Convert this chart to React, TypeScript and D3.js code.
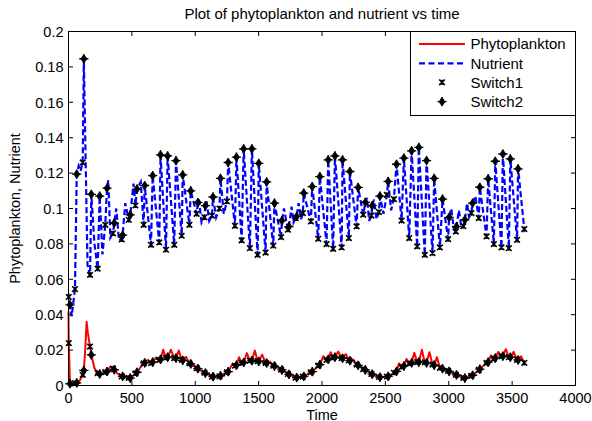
import React from 'react';
import * as d3 from 'd3';

const W = 592;
const H = 421;

const titleText = 'Plot of phytoplankton and nutrient vs time';
const xLabelText = 'Time';
const yLabelText = 'Phytoplankton, Nutrient';
const xTicks = [0, 500, 1000, 1500, 2000, 2500, 3000, 3500, 4000];
const yTicks = [0, 0.02, 0.04, 0.06, 0.08, 0.1, 0.12, 0.14, 0.16, 0.18, 0.2];
const yTickLabels = ['0', '0.02', '0.04', '0.06', '0.08', '0.1', '0.12', '0.14', '0.16', '0.18', '0.2'];
const legendLabels = ['Phytoplankton', 'Nutrient', 'Switch1', 'Switch2'];

// Nutrient trajectory [time, value]
const nutrient: [number, number][] = [
  [0, 0.052], [2, 0.050], [12, 0.0456], [25, 0.039], [51, 0.0545], [65, 0.1194], [80, 0.124], [95, 0.121],
  [112, 0.126], [121, 0.1846], [150, 0.068], [170, 0.0625], [180, 0.108], [205, 0.080], [230, 0.066],
  [246, 0.107], [268, 0.074], [290, 0.0908], [304, 0.1115], [314, 0.116], [330, 0.0835], [351, 0.086],
  [361, 0.0918], [377, 0.100], [398, 0.082], [420, 0.0825], [427, 0.085], [448, 0.103], [475, 0.0936],
  [487, 0.0964], [513, 0.114], [528, 0.1017], [540, 0.111], [570, 0.115], [593, 0.0908], [601, 0.113],
  [651, 0.0795], [664, 0.1186], [716, 0.0808], [726, 0.1303], [769, 0.0767], [782, 0.1297], [834, 0.0795],
  [848, 0.127], [893, 0.0846], [901, 0.119], [954, 0.0908], [964, 0.110], [1011, 0.097], [1021, 0.1034],
  [1030, 0.105], [1050, 0.092], [1072, 0.095], [1080, 0.1016], [1090, 0.104], [1110, 0.093], [1132, 0.096],
  [1140, 0.1065], [1165, 0.095], [1191, 0.100], [1199, 0.117], [1225, 0.097], [1250, 0.104], [1260, 0.126],
  [1313, 0.0902], [1325, 0.129], [1366, 0.082], [1382, 0.1337], [1431, 0.0776], [1447, 0.1337],
  [1492, 0.0738], [1501, 0.1255], [1555, 0.0751], [1563, 0.115], [1615, 0.079], [1625, 0.103],
  [1677, 0.0838], [1684, 0.0932], [1700, 0.100], [1731, 0.088], [1739, 0.0898], [1760, 0.101],
  [1775, 0.092], [1792, 0.0946], [1800, 0.0955], [1815, 0.103], [1835, 0.094], [1849, 0.0974],
  [1856, 0.1087], [1912, 0.0927], [1923, 0.1124], [1970, 0.0829], [1983, 0.118], [2036, 0.0799],
  [2049, 0.1275], [2088, 0.0772], [2102, 0.1297], [2155, 0.078], [2162, 0.1275], [2212, 0.0833],
  [2220, 0.1209], [2273, 0.0899], [2285, 0.1119], [2325, 0.0965], [2342, 0.1035], [2355, 0.106],
  [2372, 0.093], [2390, 0.096], [2396, 0.1016], [2410, 0.105], [2430, 0.094], [2449, 0.098], [2457, 0.107],
  [2485, 0.097], [2512, 0.1077], [2522, 0.1153], [2545, 0.099], [2567, 0.1053], [2588, 0.125],
  [2628, 0.0932], [2646, 0.1285], [2688, 0.0833], [2707, 0.1326], [2751, 0.0786], [2764, 0.1345],
  [2811, 0.0738], [2825, 0.1271], [2872, 0.0748], [2885, 0.117], [2930, 0.078], [2951, 0.1053],
  [2995, 0.0827], [3003, 0.095], [3020, 0.100], [3040, 0.088], [3056, 0.087], [3061, 0.0898],
  [3080, 0.099], [3100, 0.089], [3115, 0.090], [3127, 0.0936], [3145, 0.103], [3160, 0.095],
  [3178, 0.0974], [3188, 0.103], [3210, 0.107], [3237, 0.0946], [3245, 0.112], [3298, 0.0842],
  [3311, 0.1168], [3356, 0.0799], [3367, 0.1267], [3416, 0.078], [3427, 0.1308], [3474, 0.0776],
  [3486, 0.128], [3539, 0.0823], [3547, 0.1224], [3596, 0.0884], [3600, 0.089],
];

// Phytoplankton trajectory [time, value]
const phyto: [number, number][] = [
  [0, 0.042], [2, 0.024], [12, 0.001], [30, 0.0], [51, 0.0013], [65, 0.0015], [90, 0.003], [112, 0.006],
  [121, 0.0085], [132, 0.02], [143, 0.036], [152, 0.03], [170, 0.022], [180, 0.0173], [205, 0.0098],
  [230, 0.007], [246, 0.0065], [268, 0.0068], [290, 0.0075], [304, 0.0079], [329, 0.0105], [351, 0.0095],
  [361, 0.0089], [386, 0.0068], [420, 0.0052], [427, 0.0051], [475, 0.0043], [487, 0.0042], [528, 0.0068],
  [540, 0.0075], [568, 0.0102], [593, 0.0125], [601, 0.0128], [627, 0.0145], [651, 0.0127], [664, 0.0132],
  [690, 0.0158], [716, 0.0145], [726, 0.0148], [747, 0.0202], [769, 0.0158], [782, 0.016], [808, 0.0202],
  [834, 0.0155], [848, 0.0155], [870, 0.0198], [893, 0.0145], [901, 0.0142], [927, 0.0162], [954, 0.0125],
  [964, 0.0122], [1011, 0.0098], [1021, 0.0095], [1072, 0.0072], [1080, 0.007], [1132, 0.005],
  [1140, 0.005], [1191, 0.0052], [1199, 0.0055], [1250, 0.0075], [1260, 0.0078], [1290, 0.0118],
  [1313, 0.0112], [1325, 0.0115], [1345, 0.016], [1366, 0.0128], [1382, 0.013], [1407, 0.0183],
  [1431, 0.014], [1447, 0.014], [1470, 0.0198], [1492, 0.0138], [1501, 0.0136], [1528, 0.0174],
  [1555, 0.0128], [1563, 0.0127], [1589, 0.0135], [1615, 0.0112], [1625, 0.011], [1677, 0.009],
  [1684, 0.0088], [1731, 0.0065], [1739, 0.0063], [1792, 0.0045], [1800, 0.0045], [1849, 0.005],
  [1856, 0.0052], [1912, 0.0075], [1923, 0.0078], [1970, 0.0112], [1983, 0.0118], [2010, 0.0165],
  [2036, 0.0145], [2049, 0.0148], [2068, 0.0188], [2088, 0.0158], [2102, 0.016], [2128, 0.0192],
  [2155, 0.0155], [2162, 0.0154], [2188, 0.0178], [2212, 0.0142], [2220, 0.014], [2246, 0.0148],
  [2273, 0.0118], [2285, 0.0114], [2325, 0.0092], [2342, 0.0088], [2390, 0.0065], [2396, 0.0064],
  [2449, 0.0048], [2457, 0.0047], [2512, 0.005], [2522, 0.0052], [2567, 0.0072], [2588, 0.008],
  [2608, 0.0125], [2628, 0.0105], [2646, 0.011], [2667, 0.015], [2688, 0.0125], [2707, 0.0128],
  [2728, 0.0185], [2751, 0.0132], [2764, 0.0132], [2788, 0.0202], [2811, 0.013], [2825, 0.0128],
  [2848, 0.0188], [2872, 0.0118], [2885, 0.0115], [2907, 0.016], [2930, 0.010], [2951, 0.0095],
  [2995, 0.0082], [3003, 0.008], [3056, 0.006], [3061, 0.006], [3115, 0.0043], [3127, 0.0042],
  [3178, 0.0055], [3188, 0.0058], [3237, 0.0088], [3245, 0.0092], [3298, 0.0128], [3311, 0.0132],
  [3333, 0.017], [3356, 0.0152], [3367, 0.0155], [3391, 0.019], [3416, 0.0165], [3427, 0.0166],
  [3450, 0.0205], [3474, 0.016], [3486, 0.016], [3512, 0.019], [3539, 0.0145], [3547, 0.0144],
  [3570, 0.0165], [3596, 0.0128], [3600, 0.0127],
];

// Switch events: [time, nutrient, phytoplankton]
const switch1: [number, number, number][] = [
  [2, 0.050, 0.024], [51, 0.0545, 0.0013], [112, 0.126, 0.006], [170, 0.0625, 0.022], [230, 0.066, 0.007],
  [290, 0.0908, 0.0075], [351, 0.086, 0.0095], [420, 0.0825, 0.0052], [475, 0.0936, 0.0043],
  [528, 0.1017, 0.0068], [593, 0.0908, 0.0125], [651, 0.0795, 0.0127], [716, 0.0808, 0.0145],
  [769, 0.0767, 0.0158], [834, 0.0795, 0.0155], [893, 0.0846, 0.0145], [954, 0.0908, 0.0125],
  [1011, 0.097, 0.0098], [1072, 0.095, 0.0072], [1132, 0.096, 0.005], [1191, 0.100, 0.0052],
  [1250, 0.104, 0.0075], [1313, 0.0902, 0.0112], [1366, 0.082, 0.0128], [1431, 0.0776, 0.014],
  [1492, 0.0738, 0.0138], [1555, 0.0751, 0.0128], [1615, 0.079, 0.0112], [1677, 0.0838, 0.009],
  [1731, 0.088, 0.0065], [1792, 0.0946, 0.0045], [1849, 0.0974, 0.005], [1912, 0.0927, 0.0075],
  [1970, 0.0829, 0.0112], [2036, 0.0799, 0.0145], [2088, 0.0772, 0.0158], [2155, 0.078, 0.0155],
  [2212, 0.0833, 0.0142], [2273, 0.0899, 0.0118], [2325, 0.0965, 0.0092], [2390, 0.096, 0.0065],
  [2449, 0.098, 0.0048], [2512, 0.1077, 0.005], [2567, 0.1053, 0.0072], [2628, 0.0932, 0.0105],
  [2688, 0.0833, 0.0125], [2751, 0.0786, 0.0132], [2811, 0.0738, 0.013], [2872, 0.0748, 0.0118],
  [2930, 0.078, 0.010], [2995, 0.0827, 0.0082], [3056, 0.087, 0.006], [3115, 0.090, 0.0043],
  [3178, 0.0974, 0.0055], [3237, 0.0946, 0.0088], [3298, 0.0842, 0.0128], [3356, 0.0799, 0.0152],
  [3416, 0.078, 0.0165], [3474, 0.0776, 0.016], [3539, 0.0823, 0.0145], [3596, 0.0884, 0.0128],
];

const switch2: [number, number, number][] = [
  [12, 0.0456, 0.001], [65, 0.1194, 0.0015], [121, 0.1846, 0.0085], [180, 0.108, 0.0173],
  [246, 0.107, 0.0065], [304, 0.1115, 0.0079], [361, 0.0918, 0.0089], [427, 0.085, 0.0051],
  [487, 0.0964, 0.0042], [540, 0.111, 0.0075], [601, 0.113, 0.0128], [664, 0.1186, 0.0132],
  [726, 0.1303, 0.0148], [782, 0.1297, 0.016], [848, 0.127, 0.0155], [901, 0.119, 0.0142],
  [964, 0.110, 0.0122], [1021, 0.1034, 0.0095], [1080, 0.1016, 0.007], [1140, 0.1065, 0.005],
  [1199, 0.117, 0.0055], [1260, 0.126, 0.0078], [1325, 0.129, 0.0115], [1382, 0.1337, 0.013],
  [1447, 0.1337, 0.014], [1501, 0.1255, 0.0136], [1563, 0.115, 0.0127], [1625, 0.103, 0.011],
  [1684, 0.0932, 0.0088], [1739, 0.0898, 0.0063], [1800, 0.0955, 0.0045], [1856, 0.1087, 0.0052],
  [1923, 0.1124, 0.0078], [1983, 0.118, 0.0118], [2049, 0.1275, 0.0148], [2102, 0.1297, 0.016],
  [2162, 0.1275, 0.0154], [2220, 0.1209, 0.014], [2285, 0.1119, 0.0114], [2342, 0.1035, 0.0088],
  [2396, 0.1016, 0.0064], [2457, 0.107, 0.0047], [2522, 0.1153, 0.0052], [2588, 0.125, 0.008],
  [2646, 0.1285, 0.011], [2707, 0.1326, 0.0128], [2764, 0.1345, 0.0132], [2825, 0.1271, 0.0128],
  [2885, 0.117, 0.0115], [2951, 0.1053, 0.0095], [3003, 0.095, 0.008], [3061, 0.0898, 0.006],
  [3127, 0.0936, 0.0042], [3188, 0.103, 0.0058], [3245, 0.112, 0.0092], [3311, 0.1168, 0.0132],
  [3367, 0.1267, 0.0155], [3427, 0.1308, 0.0166], [3486, 0.128, 0.016], [3547, 0.1224, 0.0144],
];

const FONT = '"Liberation Sans", Arial, Helvetica, sans-serif';

const switch1Path = 'M-2.8,-2.8L2.8,2.8M-2.8,2.8L2.8,-2.8M0,-2.6L0,2.6';
const switch2Diamond = 'M0,-4.3L3,0L0,4.3L-3,0Z';
const switch2Plus = 'M-4.6,0L4.6,0M0,-4.6L0,4.6';

function Switch1Marker({ x, y }: { x: number; y: number }) {
  return <path d={switch1Path} transform={`translate(${x},${y})`} stroke="#000" strokeWidth={1.6} fill="none" />;
}
function Switch2Marker({ x, y }: { x: number; y: number }) {
  return (
    <g transform={`translate(${x},${y})`}>
      <path d={switch2Diamond} fill="#000" stroke="#000" strokeWidth={0.8} />
      <path d={switch2Plus} stroke="#000" strokeWidth={1.3} fill="none" />
    </g>
  );
}

export default function App() {
  const left = 68.5, right = 575.5, top = 31.5, bottom = 385.5;
  const x = d3.scaleLinear().domain([0, 4000]).range([left, right]);
  const y = d3.scaleLinear().domain([0, 0.2]).range([bottom, top]);
  const line = d3.line<[number, number]>().x(d => x(d[0])).y(d => y(d[1]));
  const tickLen = 4.5;

  const legX = 410.5, legY = 31.5, legW = 165, legH = 84;
  const rowY = [44, 63.3, 82.3, 101.7];

  return (
    <svg width={W} height={H} style={{ position: 'absolute', left: 0, top: 0, background: '#fff' }} fontFamily={FONT}>
      <rect x={0} y={0} width={W} height={H} fill="#fff" />
      <text x={(left + right) / 2} y={19} textAnchor="middle" fontSize={15}>{titleText}</text>

      <path d={line(phyto) || ''} fill="none" stroke="#ff0000" strokeWidth={2} strokeLinejoin="round" />
      <path d={line(nutrient) || ''} fill="none" stroke="#0000ff" strokeWidth={2.2} strokeDasharray="6,3" />

      {switch1.map((d, i) => <Switch1Marker key={'s1n' + i} x={x(d[0])} y={y(d[1])} />)}
      {switch1.map((d, i) => <Switch1Marker key={'s1p' + i} x={x(d[0])} y={y(d[2])} />)}
      {switch2.map((d, i) => <Switch2Marker key={'s2n' + i} x={x(d[0])} y={y(d[1])} />)}
      {switch2.map((d, i) => <Switch2Marker key={'s2p' + i} x={x(d[0])} y={y(d[2])} />)}

      <rect x={left} y={top} width={right - left} height={bottom - top} fill="none" stroke="#000" strokeWidth={1} />
      {xTicks.map(t => (
        <g key={'xt' + t}>
          <line x1={x(t)} x2={x(t)} y1={bottom} y2={bottom - tickLen} stroke="#000" />
          <line x1={x(t)} x2={x(t)} y1={top} y2={top + tickLen} stroke="#000" />
          <text x={x(t)} y={bottom + 17.5} textAnchor="middle" fontSize={14.5}>{String(t)}</text>
        </g>
      ))}
      {yTicks.map((t, i) => (
        <g key={'yt' + i}>
          <line x1={left} x2={left + tickLen} y1={y(t)} y2={y(t)} stroke="#000" />
          <line x1={right} x2={right - tickLen} y1={y(t)} y2={y(t)} stroke="#000" />
          <text x={left - 5} y={y(t)} dy="0.36em" textAnchor="end" fontSize={14.5}>{yTickLabels[i]}</text>
        </g>
      ))}
      <text x={(left + right) / 2} y={419.5} textAnchor="middle" fontSize={14.5}>{xLabelText}</text>
      <text transform={`translate(19.5,${(top + bottom) / 2}) rotate(-90)`} textAnchor="middle" fontSize={14.5}>{yLabelText}</text>

      <rect x={legX} y={legY} width={legW} height={legH} fill="#fff" stroke="#000" strokeWidth={1} />
      <line x1={419} x2={465} y1={rowY[0]} y2={rowY[0]} stroke="#ff0000" strokeWidth={2} />
      <line x1={419} x2={465} y1={rowY[1]} y2={rowY[1]} stroke="#0000ff" strokeWidth={2.2} strokeDasharray="6,3.5" />
      <Switch1Marker x={442} y={rowY[2]} />
      <Switch2Marker x={442} y={rowY[3]} />
      {legendLabels.map((l, i) => (
        <text key={l} x={470.5} y={rowY[i]} dy="0.36em" fontSize={15}>{l}</text>
      ))}
    </svg>
  );
}
